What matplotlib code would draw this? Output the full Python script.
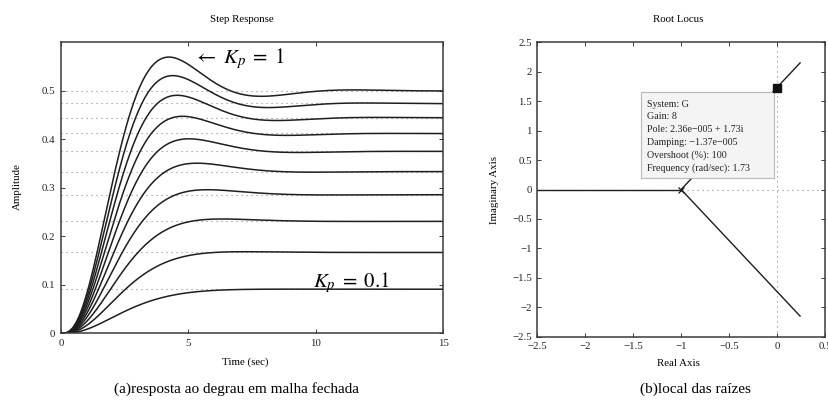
import numpy as np
import matplotlib
matplotlib.use("Agg")
import matplotlib.pyplot as plt
from matplotlib.patches import Rectangle

# ---- data -------------------------------------------------------------
# proportional gains used for the closed-loop step responses
KP_VALUES = [0.1, 0.2, 0.3, 0.4, 0.5, 0.6, 0.7, 0.8, 0.9, 1.0]
# plant denominator (s+1)^3, unit numerator
PLANT_DEN = [1.0, 3.0, 3.0, 1.0]
# final (steady-state) amplitudes, one per gain
STEADY_LEVELS = [0.091, 0.167, 0.231, 0.286, 0.333, 0.375, 0.412, 0.444, 0.474, 0.5]
T_END = 15.0

# root-locus branches: (start, end) points in the s-plane
LOCUS_REAL = [(-1.0, 0.0), (-3.5, 0.0)]
LOCUS_UPPER = [(-1.0, 0.0), (0.24, 2.15)]
LOCUS_LOWER = [(-1.0, 0.0), (0.24, -2.15)]
OPEN_LOOP_POLE = (-1.0, 0.0)
SELECTED_POLE = (2.36e-5, 1.73)
DATATIP_LINES = [
    "System: G",
    "Gain: 8",
    "Pole: 2.36e\u2212005 + 1.73i",
    "Damping: \u22121.37e\u2212005",
    "Overshoot (%): 100",
    "Frequency (rad/sec): 1.73",
]

XTICKS_STEP = [0, 5, 10, 15]
YTICKS_STEP = [0, 0.1, 0.2, 0.3, 0.4, 0.5]
XTICKS_RL = [-2.5, -2, -1.5, -1, -0.5, 0, 0.5]
YTICKS_RL = [-2.5, -2, -1.5, -1, -0.5, 0, 0.5, 1, 1.5, 2, 2.5]


def closed_loop_step(k, den, t_end, dt=0.005):
    """Unit step response of k/(den(s)+k) via RK4 on the companion form."""
    a = np.array(den, dtype=float)
    a = a / a[0]
    a[-1] += k
    n = len(a) - 1
    A = np.zeros((n, n))
    A[:-1, 1:] = np.eye(n - 1)
    A[-1, :] = -a[:0:-1]
    B = np.zeros(n)
    B[-1] = 1.0
    steps = int(round(t_end / dt))
    t = np.linspace(0, t_end, steps + 1)
    x = np.zeros(n)
    y = np.zeros(steps + 1)
    f = lambda s: A @ s + B
    for i in range(steps):
        k1 = f(x)
        k2 = f(x + 0.5 * dt * k1)
        k3 = f(x + 0.5 * dt * k2)
        k4 = f(x + dt * k3)
        x = x + dt / 6.0 * (k1 + 2 * k2 + 2 * k3 + k4)
        y[i + 1] = k * x[0]
    return t, y


plt.rcParams["font.family"] = ["Liberation Serif", "DejaVu Serif"]
plt.rcParams["mathtext.fontset"] = "stix"

W, H = 829, 413
fig = plt.figure(figsize=(W / 100, H / 100), dpi=100)


def px_axes(left, top, right, bottom):
    return fig.add_axes([left / W, 1 - bottom / H, (right - left) / W, (bottom - top) / H])


spine_col = "#3a3a3a"
line_col = "#1e1e1e"
dot_col = "#8a8a8a"
tick_fs = 7.8


def style_axes(ax):
    for s in ax.spines.values():
        s.set_color(spine_col)
        s.set_linewidth(1.1)
    ax.tick_params(direction="in", length=3, width=0.7, colors=spine_col,
                   labelcolor="#222222", labelsize=tick_fs,
                   top=True, right=True, pad=4)


# ---- step responses --------------------------------------------------
ax1 = px_axes(61, 42.3, 443.3, 333.3)
for lvl in STEADY_LEVELS:
    ax1.axhline(lvl, color=dot_col, lw=0.8, ls=(0, (1, 3.5)), zorder=1)
for k in KP_VALUES:
    t, y = closed_loop_step(k, PLANT_DEN, T_END)
    ax1.plot(t, y, color=line_col, lw=1.1, zorder=2)
ax1.set_xlim(0, T_END)
ax1.set_ylim(0, 0.6)
ax1.set_xticks(XTICKS_STEP)
ax1.set_yticks(YTICKS_STEP)
ax1.set_yticklabels(["0", "0.1", "0.2", "0.3", "0.4", "0.5"])
style_axes(ax1)
ax1.text(5.18, 0.566, r"$\leftarrow\ K_p\;=\;1$", fontsize=15, va="center", ha="left")
ax1.text(9.9, 0.104, r"$K_p\;=\;0.1$", fontsize=15, va="center", ha="left")

fig.text(242 / W, 1 - 19 / H, "Step Response", fontsize=7.8, ha="center", va="center")
fig.text(245 / W, 1 - 362 / H, "Time (sec)", fontsize=7.8, ha="center", va="center")
fig.text(17 / W, 1 - 187 / H, "Amplitude", fontsize=7.8, ha="center", va="center",
         rotation=90)

# ---- root locus ------------------------------------------------------
ax2 = px_axes(537.3, 42.3, 825, 336.7)
ax2.axvline(0, color=dot_col, lw=0.8, ls=(0, (1, 3.5)), zorder=1)
ax2.axhline(0, color=dot_col, lw=0.8, ls=(0, (1, 3.5)), zorder=1)
for br in (LOCUS_REAL, LOCUS_UPPER, LOCUS_LOWER):
    xs, ys = zip(*br)
    ax2.plot(xs, ys, color=line_col, lw=1.0, zorder=2)
ax2.plot(*OPEN_LOOP_POLE, marker="x", ms=4, mew=0.9, color=line_col, zorder=3)

# data tip
ax2.add_patch(Rectangle((-1.42, 0.187), 1.385, 1.473, facecolor="#f4f4f4",
                        edgecolor="#b8b8b8", lw=0.8, zorder=4))
for i, line in enumerate(DATATIP_LINES):
    ax2.text(-1.36, 1.45 - i * 0.216, line, fontsize=7.2, ha="left", va="center",
             color="#222222", zorder=5)
ax2.plot(*SELECTED_POLE, marker="s", ms=6, color="#111111", zorder=6)

ax2.set_xlim(-2.5, 0.5)
ax2.set_ylim(-2.5, 2.5)
ax2.set_xticks(XTICKS_RL)
ax2.set_xticklabels(["\u22122.5", "\u22122", "\u22121.5", "\u22121", "\u22120.5", "0", "0.5"])
ax2.set_yticks(YTICKS_RL)
ax2.set_yticklabels(["\u22122.5", "\u22122", "\u22121.5", "\u22121", "\u22120.5", "0",
                     "0.5", "1", "1.5", "2", "2.5"])
style_axes(ax2)

fig.text(678 / W, 1 - 19 / H, "Root Locus", fontsize=7.8, ha="center", va="center")
fig.text(678 / W, 1 - 363 / H, "Real Axis", fontsize=7.8, ha="center", va="center")
fig.text(495 / W, 1 - 190 / H, "Imaginary Axis", fontsize=7.8, ha="center",
         va="center", rotation=90)

# ---- captions --------------------------------------------------------
fig.text(237 / W, 1 - 389 / H, "(a)resposta ao degrau em malha fechada", fontsize=11,
         ha="center", va="center")
fig.text(695 / W, 1 - 389 / H, "(b)local das ra\u00edzes", fontsize=11,
         ha="center", va="center")

fig.savefig("out.png", dpi=100)
